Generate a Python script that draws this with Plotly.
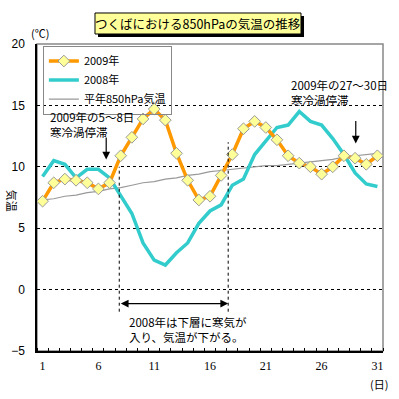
import plotly.graph_objects as go

days = list(range(1, 32))
t2009 = [7.2, 8.7, 9.0, 8.9, 8.7, 8.2, 8.7, 10.9, 12.4, 13.9, 14.7, 13.8, 11.1, 8.9, 7.3, 7.6,
         9.3, 11.0, 13.1, 13.7, 13.2, 12.2, 10.9, 10.3, 10.0, 9.4, 10.0, 10.9, 10.7, 10.2, 10.9]
t2008 = [9.2, 10.5, 10.2, 9.1, 9.8, 9.8, 9.1, 7.6, 6.2, 3.8, 2.4, 2.0, 3.0, 3.8, 5.4, 6.4,
         6.9, 8.5, 9.0, 11.0, 12.1, 13.2, 13.4, 14.5, 13.7, 13.4, 12.3, 11.0, 9.5, 8.6, 8.4]
normal = [7.3, 7.4, 7.6, 7.7, 7.9, 8.0, 8.2, 8.3, 8.5, 8.7, 8.8, 9.0, 9.1, 9.3, 9.4, 9.6,
          9.7, 9.8, 9.9, 10.0, 10.1, 10.1, 10.2, 10.3, 10.4, 10.5, 10.6, 10.8, 10.9, 11.0, 11.1]
xtick_vals = [1, 6, 11, 16, 21, 26, 31]
ytick_vals = [-5, 0, 5, 10, 15, 20]
series_names = ["2009年", "2008年", "平年850hPa気温"]
title_text = "つくばにおける850hPaの気温の推移"

JP = "Noto Sans CJK JP"

fig = go.Figure()
fig.add_trace(go.Scatter(x=days, y=normal, mode="lines", name=series_names[2],
                         line=dict(color="#999999", width=1.2)))
fig.add_trace(go.Scatter(x=days, y=t2008, mode="lines", name=series_names[1],
                         line=dict(color="#33CCCC", width=3.5)))
fig.add_trace(go.Scatter(x=days, y=t2009, mode="lines+markers", name=series_names[0],
                         line=dict(color="#FF9900", width=3.5),
                         marker=dict(symbol="diamond", size=9, color="#FFFF99",
                                     line=dict(color="#999999", width=1))))

# plot frame (grey top/right)
fig.add_shape(type="rect", xref="paper", yref="paper", x0=0, x1=1, y0=0, y1=1,
              line=dict(color="#888888", width=1.5), layer="below")

# vertical dashed markers for 2008 cold period
fig.add_shape(type="line", x0=7.87, x1=7.87, y0=-1.8, y1=10.0,
              line=dict(color="black", width=1, dash="3px,3px"))
fig.add_shape(type="line", x0=17.63, x1=17.63, y0=-1.8, y1=12.0,
              line=dict(color="black", width=1, dash="3px,3px"))

# title box with shadow
fig.add_shape(type="rect", xref="paper", yref="paper", x0=0.1763, x1=0.7717, y0=1.0228, y1=1.0912,
              fillcolor="black", line=dict(width=0), layer="above")
fig.add_shape(type="rect", xref="paper", yref="paper", x0=0.1676, x1=0.763, y0=1.0326, y1=1.101,
              fillcolor="#FFFF99", line=dict(color="black", width=1), layer="above")

anns = []
anns.append(dict(xref="paper", yref="paper", x=0.465, y=1.067, text=title_text, showarrow=False,
                 xanchor="center", yanchor="middle", font=dict(family=JP, size=12.5, color="black")))
anns.append(dict(xref="paper", yref="paper", x=-0.023, y=1.036, text="(℃)", showarrow=False,
                 xanchor="left", yanchor="middle", font=dict(family=JP, size=11, color="black")))
anns.append(dict(xref="paper", yref="paper", x=1.02, y=-0.106, text="(日)", showarrow=False,
                 xanchor="right", yanchor="middle", font=dict(family=JP, size=11, color="black")))
anns.append(dict(xref="paper", yref="paper", x=-0.072, y=0.489, text="気温", showarrow=False,
                 textangle=90, xanchor="center", yanchor="middle",
                 font=dict(family=JP, size=11, color="black")))
anns.append(dict(x=1.49, y=14.9, text="2009年の5～8日<br>寒冷渦停滞", showarrow=False,
                 xanchor="left", yanchor="top", align="left",
                 font=dict(family=JP, size=11.5, color="black")))
anns.append(dict(x=23.07, y=17.5, text="2009年の27～30日<br>寒冷渦停滞", showarrow=False,
                 xanchor="left", yanchor="top", align="left",
                 font=dict(family=JP, size=11.5, color="black")))
anns.append(dict(x=8.56, y=-1.8, text="2008年は下層に寒気が<br>入り、気温が下がる。", showarrow=False,
                 xanchor="left", yanchor="top", align="left",
                 font=dict(family=JP, size=11.5, color="black")))
# arrows
anns.append(dict(x=6.7, y=10.6, ax=6.7, ay=12.5, axref="x", ayref="y", text="", showarrow=True,
                 arrowhead=2, arrowsize=1.3, arrowwidth=1.2, arrowcolor="black"))
anns.append(dict(x=29.06, y=11.9, ax=29.06, ay=13.85, axref="x", ayref="y", text="", showarrow=True,
                 arrowhead=2, arrowsize=1.3, arrowwidth=1.2, arrowcolor="black"))
anns.append(dict(x=17.63, y=-1.14, ax=7.87, ay=-1.14, axref="x", ayref="y", text="", showarrow=True,
                 arrowhead=2, startarrowhead=2, arrowside="end+start", arrowsize=1.3,
                 startarrowsize=1.3, arrowwidth=1.2, arrowcolor="black"))

fig.update_layout(
    width=399, height=399,
    margin=dict(l=37, r=16, t=44, b=48, autoexpand=False),
    paper_bgcolor="white", plot_bgcolor="white",
    font=dict(family=JP, size=12, color="black"),
    showlegend=True,
    legend=dict(x=0.017, y=0.995, xanchor="left", yanchor="top",
                bgcolor="rgba(255,255,255,0)", bordercolor="#888888", borderwidth=1,
                font=dict(family=JP, size=11, color="black"),
                traceorder="reversed", tracegroupgap=0, itemwidth=30),
    annotations=anns,
    xaxis=dict(range=[0.5, 31.5], tickvals=xtick_vals, ticktext=[str(v) for v in xtick_vals],
               showgrid=False, zeroline=False, showline=True, linecolor="black", linewidth=1.5,
               ticks="", ticklabelstandoff=3, automargin=False,
               tickfont=dict(family="Liberation Serif", size=12, color="black"),
               minor=dict(ticks="inside", tick0=0.5, dtick=1, ticklen=3, tickcolor="black",
                          showgrid=False)),
    yaxis=dict(range=[-5, 20], tickvals=ytick_vals, showgrid=True, gridcolor="black",
               griddash="3px,3px", gridwidth=1, zeroline=False, showline=True,
               linecolor="black", linewidth=1.5, ticks="", ticklabelstandoff=8, automargin=False,
               tickfont=dict(family="Liberation Sans", size=12, color="black")),
)

fig.write_html("out.html", config={"displayModeBar": False},
               post_script="document.body.style.margin='0';document.body.style.overflow='hidden';")
